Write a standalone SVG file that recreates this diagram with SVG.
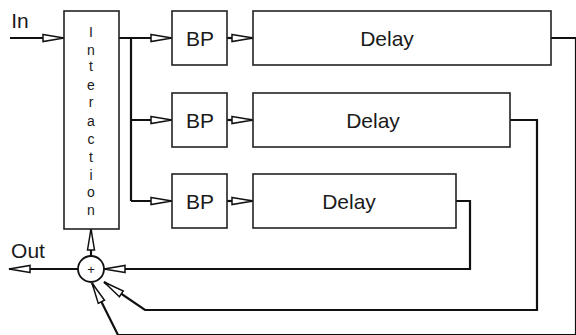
<svg xmlns="http://www.w3.org/2000/svg" width="576" height="335" viewBox="0 0 576 335">
<style>
.box{fill:#fff;stroke:#222;stroke-width:1.6}
.lbl{font-family:"Liberation Sans",Arial,sans-serif;font-size:21px;fill:#1a1a1a;text-anchor:middle}
.let{font-family:"Liberation Sans",Arial,sans-serif;font-size:14px;fill:#1a1a1a;text-anchor:middle}
.wire{fill:none;stroke:#111;stroke-width:2.2}
</style>
<defs>
<marker id="arr" markerUnits="userSpaceOnUse" viewBox="-1 -1 24 10" refX="21" refY="4" markerWidth="24" markerHeight="10" orient="auto">
<path d="M0,0.5 L21,4 L0,7.5 Z" fill="#fff" stroke="#111" stroke-width="1.5" stroke-linejoin="miter"/>
</marker>
</defs>
<rect width="576" height="335" fill="#fff"/>
<g id="connectors">
<path class="wire" d="M10,38 H64" marker-end="url(#arr)"/>
<path class="wire" d="M119,38 H172" marker-end="url(#arr)"/>
<path class="wire" d="M131,38 V201"/>
<path class="wire" d="M131,120 H172" marker-end="url(#arr)"/>
<path class="wire" d="M131,201 H172" marker-end="url(#arr)"/>
<path class="wire" d="M227,38 H253" marker-end="url(#arr)"/>
<path class="wire" d="M227,120 H253" marker-end="url(#arr)"/>
<path class="wire" d="M227,201 H253" marker-end="url(#arr)"/>
<path class="wire" d="M551,38 H576 V335 H118 L92,283" marker-end="url(#arr)"/>
<path class="wire" d="M510,120 H537 V310 H145 L104,282" marker-end="url(#arr)"/>
<path class="wire" d="M456,201 H470 V269 H104" marker-end="url(#arr)"/>
<path class="wire" d="M91,256 V229" marker-end="url(#arr)"/>
<path class="wire" d="M78,269 H9" marker-end="url(#arr)"/>
</g>
<g id="in-label"><text class="lbl" x="20" y="28">In</text></g>
<g id="out-label"><text class="lbl" x="28" y="258">Out</text></g>
<g id="interaction">
<rect class="box" x="64" y="11" width="55" height="218"/>
<text class="let" x="91" y="37">I</text>
<text class="let" x="91" y="55">n</text>
<text class="let" x="91" y="71">t</text>
<text class="let" x="91" y="90">e</text>
<text class="let" x="91" y="107">r</text>
<text class="let" x="91" y="126">a</text>
<text class="let" x="91" y="144">c</text>
<text class="let" x="91" y="162">t</text>
<text class="let" x="91" y="180">i</text>
<text class="let" x="91" y="197">o</text>
<text class="let" x="91" y="215">n</text>
</g>
<g id="bp1"><rect class="box" x="172" y="11" width="55" height="54"/><text class="lbl" x="200" y="46">BP</text></g>
<g id="bp2"><rect class="box" x="172" y="93" width="55" height="54"/><text class="lbl" x="200" y="128">BP</text></g>
<g id="bp3"><rect class="box" x="172" y="174" width="55" height="54"/><text class="lbl" x="200" y="209">BP</text></g>
<g id="delay1"><rect class="box" x="253" y="11" width="298" height="54"/><text class="lbl" x="387" y="46">Delay</text></g>
<g id="delay2"><rect class="box" x="253" y="93" width="257" height="54"/><text class="lbl" x="373" y="128">Delay</text></g>
<g id="delay3"><rect class="box" x="253" y="174" width="203" height="54"/><text class="lbl" x="349" y="209">Delay</text></g>
<g id="sum">
<circle cx="91" cy="269" r="13" fill="#fff" stroke="#111" stroke-width="1.8"/>
<text x="91" y="274" font-family="Liberation Sans,Arial,sans-serif" font-size="13" fill="#1a1a1a" text-anchor="middle">+</text>
</g>
</svg>
